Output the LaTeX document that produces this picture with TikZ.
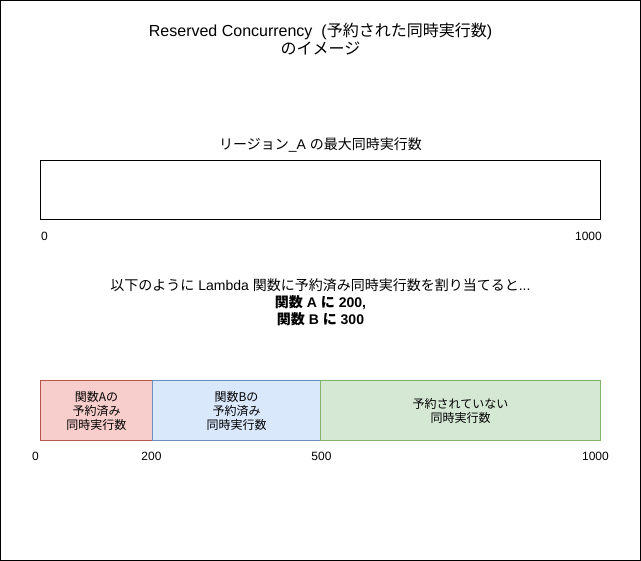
\documentclass[tikz,border=0pt]{standalone}
\usepackage{fontspec}
\setmainfont{Liberation Sans}
\newfontfamily\jp{Noto Sans CJK JP}
\usetikzlibrary{positioning}
\definecolor{RedFill}{HTML}{F8CECC}
\definecolor{RedLine}{HTML}{B85450}
\definecolor{BlueFill}{HTML}{DAE8FC}
\definecolor{BlueLine}{HTML}{6C8EBF}
\definecolor{GreenFill}{HTML}{D5E8D4}
\definecolor{GreenLine}{HTML}{82B366}

\begin{document}
\begin{tikzpicture}[x=1pt, y=-1pt, line width=1pt,
    caption/.style={font=\fontsize{14}{17}\selectfont, align=center, inner sep=0pt},
    tick/.style={font=\fontsize{12}{14}\selectfont, inner sep=0pt},
    bar/.style={draw, minimum height=60pt, inner sep=0pt, outer sep=0pt,
      align=center, font=\jp\fontsize{12}{14}\selectfont}]
  \useasboundingbox (-0.5,-0.5) rectangle (640.5,560.5);
  \draw (0,0) rectangle (640,560);

  % title
  \node[caption, font=\fontsize{16}{17.5}\selectfont] (title) at (320,38.5)
    {Reserved Concurrency\ \ ({\jp 予約された同時実行数})\\{\jp のイメージ}};

  % region limit
  \node[caption] (regionlabel) at (320,145) {{\jp リージョン}\_A {\jp の最大同時実行数}};
  \node[draw, minimum width=560pt, minimum height=59pt, outer sep=0pt]
    (regionbox) at (320,189.5) {};
  \node[tick] (r0) at (44,236) {0};
  \node[tick] (r1000) at (588,236) {1000};

  % assignment
  \node[caption] (assign) at (320,301.5)
    {{\jp 以下のように} Lambda {\jp 関数に予約済み同時実行数を割り当てると}...\\
     \textbf{{\jp 関数} A {\jp に} 200,}\\
     \textbf{{\jp 関数} B {\jp に} 300}};

  % reserved bars
  \node[bar, fill=RedFill, draw=RedLine, minimum width=112pt]
    (barA) at (96,410) {関数Aの\\予約済み\\同時実行数};
  \node[bar, fill=BlueFill, draw=BlueLine, minimum width=168pt, right=0pt of barA]
    (barB) {関数Bの\\予約済み\\同時実行数};
  \node[bar, fill=GreenFill, draw=GreenLine, minimum width=280pt, right=0pt of barB]
    (barFree) {予約されていない\\同時実行数};
  \draw[BlueLine] (barB.north west) -- (barB.south west);

  \node[tick] (b0) at (35,456) {0};
  \node[tick] (b200) at (151,456) {200};
  \node[tick] (b500) at (321,456) {500};
  \node[tick] (b1000) at (595,456) {1000};
\end{tikzpicture}
\end{document}
